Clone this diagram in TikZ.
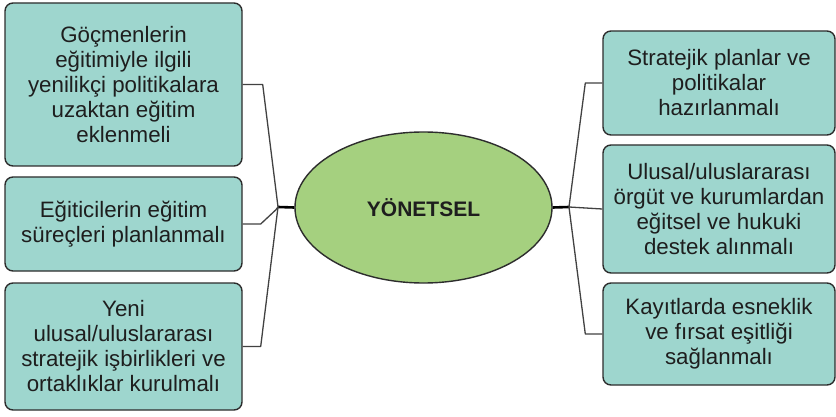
\documentclass[tikz,border=0pt]{standalone}
\usepackage{fontspec}
\setmainfont{Liberation Sans}
\usetikzlibrary{shapes.geometric}
\definecolor{boxfill}{RGB}{158,214,206}
\definecolor{ellfill}{RGB}{165,208,127}
\definecolor{edge}{RGB}{45,45,45}
\definecolor{txt}{RGB}{30,30,30}
\begin{document}
\begin{tikzpicture}[x=1pt,y=-1pt,
  box/.style={draw=edge, line width=1.4pt, fill=boxfill, rounded corners=8pt,
    align=center, text=txt, inner sep=0pt,
    font=\fontsize{22.3}{25}\selectfont},
  conn/.style={draw=edge!90, line width=1.3pt, line join=round},
  hub/.style={draw=black, line width=2.6pt}]
\useasboundingbox (0,0) rectangle (836,417);
\fill[white] (0,0) rectangle (836,417);
% left boxes
\node[box, minimum width=237pt, minimum height=163pt] (L1) at (123.5,84.5)
  {Göçmenlerin\\eğitimiyle ilgili\\yenilikçi politikalara\\uzaktan eğitim\\eklenmeli};
\node[box, minimum width=237pt, minimum height=94pt] (L2) at (123.5,224)
  {Eğiticilerin eğitim\\süreçleri planlanmalı};
\node[box, minimum width=237pt, minimum height=127pt] (L3) at (123.5,346.5)
  {Yeni\\ulusal/uluslararası\\stratejik işbirlikleri ve\\ortaklıklar kurulmalı};
% right boxes
\node[box, minimum width=232pt, minimum height=104pt] (R1) at (719,83)
  {Stratejik planlar ve\\politikalar\\hazırlanmalı};
\node[box, minimum width=232pt, minimum height=128pt] (R2) at (719,209)
  {Ulusal/uluslararası\\örgüt ve kurumlardan\\eğitsel ve hukuki\\destek alınmalı};
\node[box, minimum width=232pt, minimum height=102pt] (R3) at (719,334)
  {Kayıtlarda esneklik\\ve fırsat eşitliği\\sağlanmalı};
% centre
\node[ellipse, draw=edge, line width=1.4pt, fill=ellfill, minimum width=257pt,
  minimum height=151pt, inner sep=0pt, text=txt,
  font=\fontsize{21}{24}\selectfont\bfseries] (C) at (423.5,207.5) {YÖNETSEL};
% junctions
\coordinate (jl) at (278,207);
\coordinate (jr) at (569,207);
\draw[hub] (jl) -- (C.west);
\draw[hub] (C.east) -- (jr);
% left connectors
\draw[conn] (L1.east) -- ([xshift=20pt]L1.east) -- (jl);
\draw[conn] (L2.east) -- ([xshift=18pt]L2.east) -- ([xshift=33pt,yshift=14pt]L2.east) -- (jl);
\draw[conn] (L3.east) -- ([xshift=18pt]L3.east) -- (jl);
% right connectors
\draw[conn] (jr) -- ([xshift=-17pt]R1.west) -- (R1.west);
\draw[conn] (jr) -- (R2.west);
\draw[conn] (jr) -- ([xshift=-17pt]R3.west) -- (R3.west);
\end{tikzpicture}
\end{document}
